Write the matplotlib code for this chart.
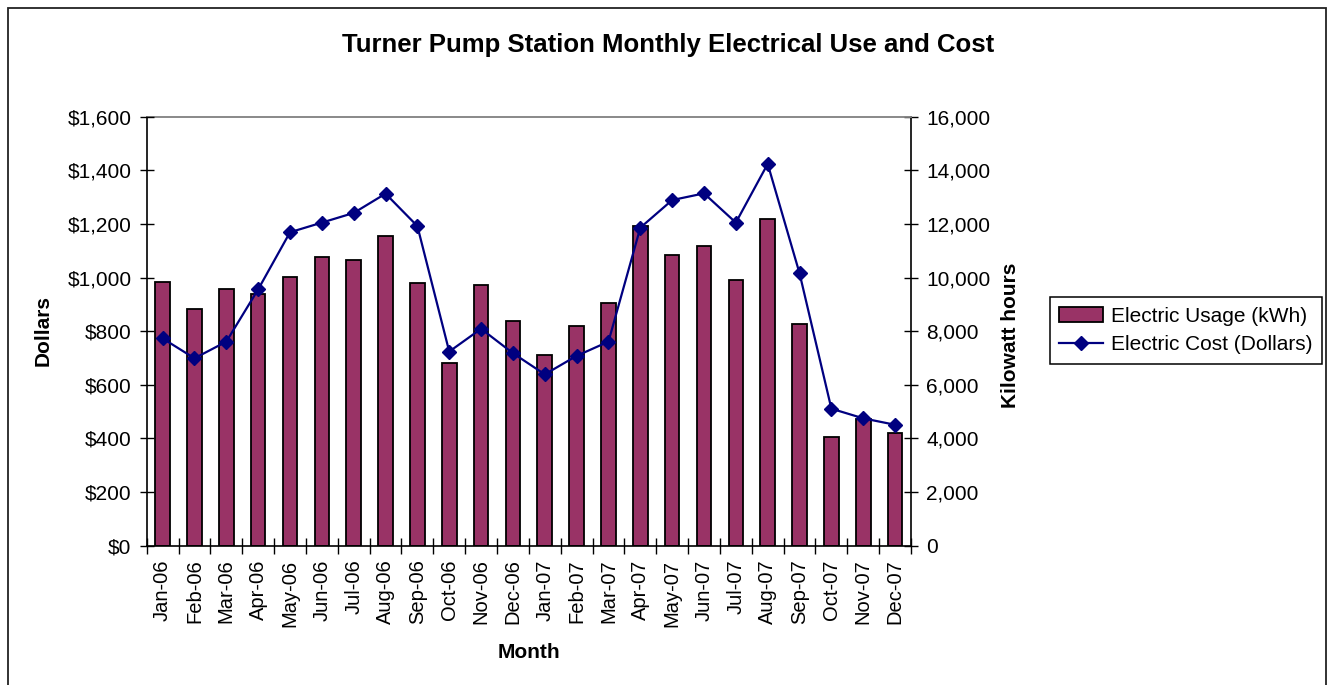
import numpy as np
import matplotlib
matplotlib.use("Agg")
import matplotlib.pyplot as plt
from matplotlib.patches import Rectangle
from matplotlib.ticker import FuncFormatter, MultipleLocator

plt.rcParams['font.family'] = ['Liberation Sans', 'DejaVu Sans']

# data
months = ['Jan-06', 'Feb-06', 'Mar-06', 'Apr-06', 'May-06', 'Jun-06',
          'Jul-06', 'Aug-06', 'Sep-06', 'Oct-06', 'Nov-06', 'Dec-06',
          'Jan-07', 'Feb-07', 'Mar-07', 'Apr-07', 'May-07', 'Jun-07',
          'Jul-07', 'Aug-07', 'Sep-07', 'Oct-07', 'Nov-07', 'Dec-07']
usage_kwh = [9846, 8828, 9563, 9376, 10033, 10779, 10644, 11551, 9798, 6814, 9734, 8392,
             7113, 8205, 9063, 11924, 10831, 11189, 9910, 12174, 8269, 4065, 4714, 4203]
cost_usd = [773, 699, 761, 956, 1169, 1205, 1241, 1313, 1192, 724, 809, 718,
            639, 708, 761, 1186, 1289, 1314, 1205, 1424, 1016, 511, 475, 451]

W, H = 1327, 685
fig = plt.figure(figsize=(W / 100, H / 100), dpi=100)
fig.patch.set_facecolor('white')

# outer chart frame (bottom edge cut off like the screenshot)
fig.patches.append(Rectangle((8 / W, -0.05), (1326 - 8) / W, 1.05 - 7.5 / H,
                             transform=fig.transFigure, fill=False,
                             edgecolor='#222222', linewidth=1.3))

ax = fig.add_axes([146.7 / W, 1 - 545.7 / H, (911 - 146.7) / W, (545.7 - 116.7) / H])
x = np.arange(len(months))

# bars -> kWh on right side axis
bars = ax.bar(x, usage_kwh, width=0.46, color='#993366', edgecolor='black',
              linewidth=1.3, label='Electric Usage (kWh)', zorder=2)
ax.set_ylim(0, 16000)
ax.set_xlim(-0.5, len(months) - 0.5)

# line -> dollars on left side axis
ax2 = ax.twinx()
line, = ax2.plot(x, cost_usd, color='#000080', linewidth=1.6, marker='D',
                 markersize=7, markerfacecolor='#000080', markeredgecolor='#000080',
                 label='Electric Cost (Dollars)', zorder=3)
ax2.set_ylim(0, 1600)

# swap sides: kWh on the right, dollars on the left
ax.yaxis.tick_right()
ax.yaxis.set_major_locator(MultipleLocator(2000))
ax.yaxis.set_major_formatter(FuncFormatter(lambda v, p: f'{int(v):,}'))
ax2.yaxis.tick_left()
ax2.yaxis.set_major_locator(MultipleLocator(200))
ax2.yaxis.set_major_formatter(FuncFormatter(lambda v, p: f'${int(v):,}'))
for s in ax2.spines.values():
    s.set_visible(False)

ax.spines['top'].set_color('#808080')
ax.spines['top'].set_linewidth(1.3)
for k in ['left', 'right', 'bottom']:
    ax.spines[k].set_color('black')
    ax.spines[k].set_linewidth(1.2)

# x ticks between categories
ax.set_xticks(x)
ax.set_xticklabels(months, rotation=90, fontsize=14.5)
ax.tick_params(axis='x', which='major', length=0, pad=10)
ax.set_xticks(np.arange(-0.5, len(months), 1.0), minor=True)
ax.tick_params(axis='x', which='minor', direction='inout', length=11, width=1)

ax.tick_params(axis='y', direction='inout', length=10, width=1, labelsize=15, pad=6)
ax2.tick_params(axis='y', direction='inout', length=10, width=1, labelsize=15, pad=6)

fig.text(668 / W, 1 - 45 / H, 'Turner Pump Station Monthly Electrical Use and Cost',
         ha='center', va='center', fontsize=18.5, fontweight='bold')
fig.text(43 / W, 1 - 330 / H, 'Dollars', rotation=90, ha='center', va='center',
         fontsize=15, fontweight='bold')
fig.text(1010 / W, 1 - 335.5 / H, 'Kilowatt hours', rotation=90, ha='center', va='center',
         fontsize=15, fontweight='bold')
fig.text(529 / W, 1 - 653 / H, 'Month', ha='center', va='center',
         fontsize=15, fontweight='bold')

leg = fig.legend([bars, line], ['Electric Usage (kWh)', 'Electric Cost (Dollars)'],
                 loc='center', bbox_to_anchor=(1186 / W, 1 - 330.5 / H),
                 fontsize=15, frameon=True, fancybox=False, edgecolor='black',
                 framealpha=1, numpoints=1, handlelength=2.1, handletextpad=0.4,
                 labelspacing=0.45, borderpad=0.45, borderaxespad=0)
leg.get_frame().set_linewidth(1.1)

fig.savefig('out.png', dpi=100)
